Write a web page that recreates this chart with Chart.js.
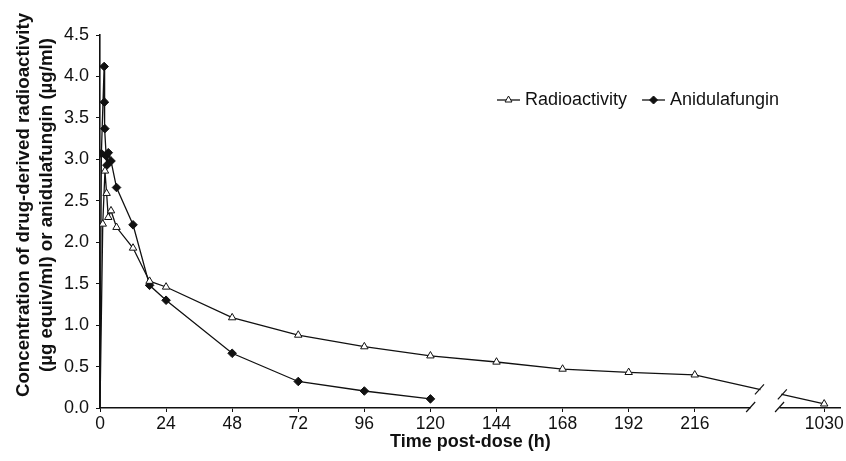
<!DOCTYPE html>
<html>
<head>
<meta charset="utf-8">
<script src="https://cdn.jsdelivr.net/npm/chart.js@4.4.1/dist/chart.umd.min.js"></script>
<style>
  html, body { margin: 0; padding: 0; background: #fff; }
</style>
</head>
<body>
<canvas id="chart" width="846" height="461"></canvas>
<script>
// Data (hours post-dose, concentration)
const radioHours = [0, 1, 1.8, 2.4, 3, 4, 6, 12, 18, 24, 48, 72, 96, 120, 144, 168, 192, 216, 1030];
const radioConc = [0, 2.22, 2.86, 2.59, 2.30, 2.38, 2.18, 1.93, 1.53, 1.46, 1.09, 0.88, 0.74, 0.63, 0.555, 0.47, 0.43, 0.40, 0.05];
const aniduHours = [0, 0.5, 1.5, 1.6, 1.75, 2.25, 2.5, 3, 4, 6, 12, 18, 24, 48, 72, 96, 120];
const aniduConc = [0, 3.07, 4.12, 3.69, 3.37, 3.04, 2.93, 3.08, 2.98, 2.66, 2.21, 1.48, 1.30, 0.66, 0.32, 0.205, 0.11];

const tickHours = [0, 24, 48, 72, 96, 120, 144, 168, 192, 216, 1030];
const tickLabels = ["0", "24", "48", "72", "96", "120", "144", "168", "192", "216", "1030"];
const yTitle = ["Concentration of drug-derived radioactivity", "(\u00b5g equiv/ml) or anidulafungin (\u00b5g/ml)"];
const xTitle = "Time post-dose (h)";

// broken time axis: hours after the break are shifted left
const breakShift = 767;
const toAxis = (h) => (h < 240 ? h : h - breakShift);

const FONT = '"Liberation Sans", Arial, sans-serif';
const INK = "#111";

const toPoints = (hours, conc) => hours.map((h, i) => ({ x: toAxis(h), y: conc[i] }));

// white out a piece of the axis and the late line, then draw the slashes
const breakPlugin = {
  id: "axisBreak",
  afterDatasetsDraw(chart) {
    const { ctx, chartArea } = chart;
    const xs = chart.scales.x;
    const bottom = chartArea.bottom;
    const slash = (cx, cy) => {
      ctx.beginPath();
      ctx.moveTo(cx - 4.5, cy + 5);
      ctx.lineTo(cx + 4.5, cy - 5);
      ctx.stroke();
    };
    ctx.save();
    ctx.fillStyle = "#fff";
    ctx.strokeStyle = INK;
    ctx.lineWidth = 1.2;

    // axis gap
    const a1 = xs.getPixelForValue(236.3);
    const a2 = xs.getPixelForValue(246.8);
    ctx.fillRect(a1, bottom - 3, a2 - a1, 6);
    slash(a1, bottom - 1);
    slash(a2, bottom - 1);

    // line gap on the radioactivity series
    const pts = chart.getDatasetMeta(0).data;
    const p1 = pts[pts.length - 2];
    const p2 = pts[pts.length - 1];
    const yAt = (px) => p1.y + (p2.y - p1.y) * (px - p1.x) / (p2.x - p1.x);
    const l1 = xs.getPixelForValue(239.5);
    const l2 = xs.getPixelForValue(247.8);
    ctx.fillRect(l1 + 1, Math.min(yAt(l1), yAt(l2)) - 3, l2 - l1 - 2, Math.abs(yAt(l2) - yAt(l1)) + 6);
    slash(l1, yAt(l1));
    slash(l2, yAt(l2));
    ctx.restore();
  }
};

// legend with line + marker and the two-line y title
const annotatePlugin = {
  id: "annotate",
  afterDraw(chart) {
    const { ctx } = chart;
    ctx.save();
    ctx.fillStyle = INK;
    ctx.strokeStyle = INK;
    ctx.font = "18px " + FONT;
    ctx.textBaseline = "middle";
    let x = 497;
    const y = 100;
    chart.data.datasets.forEach((ds) => {
      ctx.lineWidth = 1.3;
      ctx.beginPath();
      ctx.moveTo(x, y);
      ctx.lineTo(x + 23, y);
      ctx.stroke();
      ctx.fillStyle = ds.pointBackgroundColor;
      ctx.lineWidth = 1;
      Chart.helpers.drawPoint(ctx, { pointStyle: ds.pointStyle, radius: 4, rotation: 0, borderWidth: 1 }, x + 11.5, y);
      ctx.fillStyle = INK;
      ctx.fillText(ds.label, x + 28, y);
      x += 28 + ctx.measureText(ds.label).width + 15;
    });

    ctx.font = "bold 18.7px " + FONT;
    ctx.textAlign = "center";
    ctx.translate(0, 205);
    ctx.rotate(-Math.PI / 2);
    ctx.fillText(yTitle[0], 0, 24);
    ctx.fillText(yTitle[1], 0, 47);
    ctx.restore();
  }
};

const pointSize = (c) => (c.raw && c.raw.x === 0 ? 0 : 4.3);

new Chart(document.getElementById("chart"), {
  type: "line",
  data: {
    datasets: [
      {
        label: "Radioactivity",
        data: toPoints(radioHours, radioConc),
        borderColor: INK,
        borderWidth: 1.3,
        pointStyle: "triangle",
        pointRadius: pointSize,
        pointBackgroundColor: "#fff",
        pointBorderColor: INK,
        pointBorderWidth: 1,
        tension: 0
      },
      {
        label: "Anidulafungin",
        data: toPoints(aniduHours, aniduConc),
        borderColor: INK,
        borderWidth: 1.3,
        pointStyle: "rectRot",
        pointRadius: pointSize,
        pointBackgroundColor: INK,
        pointBorderColor: INK,
        pointBorderWidth: 1,
        tension: 0
      }
    ]
  },
  options: {
    responsive: false,
    animation: false,
    layout: { padding: { top: 35, right: 3, left: 0, bottom: 0 } },
    plugins: { legend: { display: false }, tooltip: { enabled: false } },
    scales: {
      x: {
        type: "linear",
        min: 0,
        max: 269,
        afterFit: (s) => { s.height = 53; },
        afterBuildTicks: (s) => { s.ticks = tickHours.map((h) => ({ value: toAxis(h) })); },
        ticks: {
          callback: (v, i) => tickLabels[i],
          autoSkip: false,
          maxRotation: 0,
          padding: 2,
          color: INK,
          font: { family: FONT, size: 17.5 }
        },
        grid: { drawOnChartArea: false, drawTicks: true, tickLength: 4, color: INK },
        border: { display: true, color: INK, width: 1.6 },
        title: {
          display: true,
          text: xTitle,
          color: INK,
          font: { family: FONT, size: 18, weight: "bold" },
          padding: { top: 0, bottom: 8 }
        }
      },
      y: {
        min: 0,
        max: 4.5,
        afterFit: (s) => { s.width = 100; },
        ticks: {
          stepSize: 0.5,
          callback: (v) => v.toFixed(1),
          padding: 7,
          color: INK,
          font: { family: FONT, size: 18 }
        },
        grid: { drawOnChartArea: false, drawTicks: true, tickLength: 4, color: INK },
        border: { display: true, color: INK, width: 1.6 }
      }
    }
  },
  plugins: [breakPlugin, annotatePlugin]
});
</script>
</body>
</html>
